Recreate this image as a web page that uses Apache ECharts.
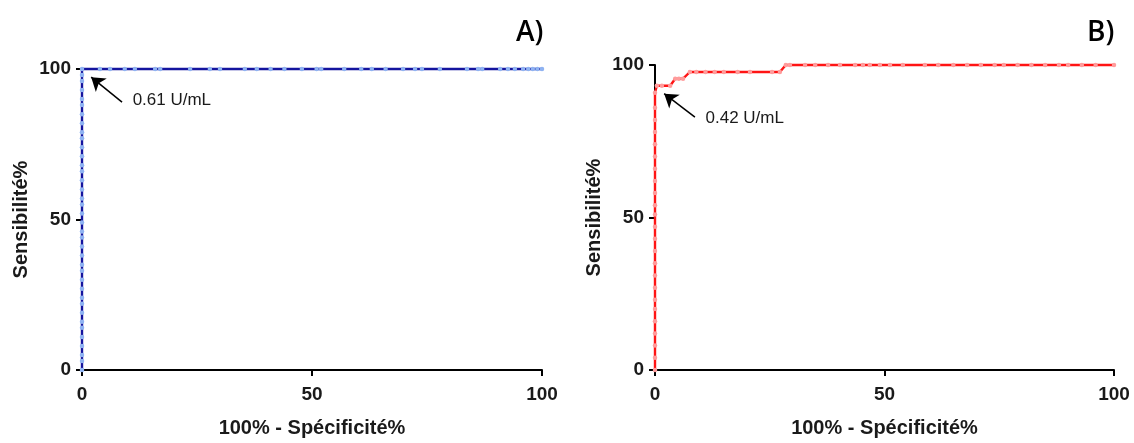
<!DOCTYPE html>
<html>
<head>
<meta charset="utf-8">
<script src="https://cdn.jsdelivr.net/npm/echarts@6/dist/echarts.min.js"></script>
<style>
html,body{margin:0;padding:0;background:#fff;overflow:hidden;}
#chart{width:1134px;height:443px;}
</style>
</head>
<body>
<div id="chart"></div>
<script>
// ---- Data ----
const panelTitles = ['A)', 'B)'];
const xAxisName = '100% - Spécificité%';
const yAxisName = 'Sensibilité%';
const axisMin = 0, axisMax = 100, axisInterval = 50;

// Panel A ROC (100% - specificity, sensitivity)
const rocA_x = [0,0,0,0,0,0,0,0,0,0,0,0,0,0,0,0,0,0,0,0,0,0,0,0,0,0,0,0,0,0,0,0,0,0,0,0,0,0,
  3.9,6.1,9.3,11.5,15.9,17,23.5,27.8,30,35.4,38,41,44,47.8,51,52,57,60.7,63,66,69.8,72.4,73.9,77.8,83.7,86.1,87,90.9,92.6,94.1,95.9,97,98,99,100];
const rocA_y = [0,3,5,8,11,14,16,19,22,24,27,30,33,35,38,41,44,46,49,52,55,57,60,63,66,68,71,74,77,79,82,85,88,90,93,96,98,100,
  100,100,100,100,100,100,100,100,100,100,100,100,100,100,100,100,100,100,100,100,100,100,100,100,100,100,100,100,100,100,100,100,100,100,100];

// Panel B ROC
const rocB_x = [0,0,0,0,0,0,0,0,0,0,0,0,0,0,0,0,0,0,0,0,0,0,0,0,
  0.4,1.5,3.3,4.4,5.2,6.1,7.6,9,11,13,15,18,20.7,25.5,27.2,28.5,29.4,32.7,34.9,37.7,40.3,43.6,45.3,46.8,49,51.2,54,58.8,61.7,65,68,71,74,76,79,82,85,88,90,93,96,100];
const rocB_y = [0,4,8,12,16,20,23,27,31,35,39,43,47,51,54,58,62,66,70,74,78,82,86,90.9,
  93.2,93.2,93.2,95.5,95.5,95.5,97.7,97.7,97.7,97.7,97.7,97.7,97.7,97.7,97.7,100,100,100,100,100,100,100,100,100,100,100,100,100,100,100,100,100,100,100,100,100,100,100,100,100,100,100];

// Annotations: cut-off labels and arrow (tail -> head) in data units
const cutoffLabels = ['0.61 U/mL', '0.42 U/mL'];
const arrowA = [[8.7, 89.0], [2.0, 97.3]];
const arrowB = [[8.7, 82.9], [2.0, 90.6]];
const labelPosA = [10.9, 89.5];
const labelPosB = [10.9, 82.6];

// ---- Chart ----
const chart = echarts.init(document.getElementById('chart'));
const tickFont = {fontFamily: 'Liberation Sans, Arial, sans-serif', fontWeight: 'bold', fontSize: 19, color: '#1a1a1a'};
const nameFont = {fontFamily: 'Liberation Sans, Arial, sans-serif', fontWeight: 'bold', fontSize: 20, color: '#1a1a1a'};

function xAx(gi) {
  return {
    type: 'value', gridIndex: gi, min: axisMin, max: axisMax, interval: axisInterval,
    name: xAxisName, nameLocation: 'middle', nameGap: 48, nameTextStyle: nameFont,
    axisLine: {show: true, onZero: false, lineStyle: {color: '#000', width: 2}},
    axisTick: {show: true, length: 6, lineStyle: {color: '#000', width: 2}},
    axisLabel: Object.assign({margin: 15}, tickFont),
    splitLine: {show: false}
  };
}
function yAx(gi) {
  return {
    type: 'value', gridIndex: gi, min: axisMin, max: axisMax, interval: axisInterval,
    name: yAxisName, nameLocation: 'middle', nameGap: 51, nameTextStyle: nameFont,
    axisLine: {show: true, lineStyle: {color: '#000', width: 2}},
    axisTick: {show: true, length: 6, lineStyle: {color: '#000', width: 2}},
    axisLabel: Object.assign({margin: 11}, tickFont),
    splitLine: {show: false}
  };
}
function zip(xs, ys) { return xs.map((x, i) => [x, ys[i]]); }

function rocSeries(gi, xs, ys, lineColor, dotColor, arrow, labelPos, labelText) {
  return {
    type: 'line', xAxisIndex: gi, yAxisIndex: gi,
    data: zip(xs, ys), clip: false,
    symbol: 'circle', symbolSize: 4.5, showSymbol: true,
    itemStyle: {color: dotColor, borderWidth: 0},
    lineStyle: {color: lineColor, width: 2.4},
    emphasis: {disabled: true}, animation: false,
    markLine: {
      silent: true, animation: false,
      symbol: ['none', 'arrow'], symbolSize: 13,
      lineStyle: {color: '#000', width: 1.5, type: 'solid'},
      itemStyle: {color: '#000'},
      label: {show: false},
      data: [[{coord: arrow[0]}, {coord: arrow[1]}]]
    },
    markPoint: {
      silent: true, animation: false,
      symbol: 'circle', symbolSize: 1, itemStyle: {color: 'rgba(0,0,0,0)'},
      label: {show: true, position: 'right', distance: 0, formatter: labelText,
        fontFamily: 'Liberation Sans, Arial, sans-serif', fontSize: 17, color: '#1a1a1a'},
      data: [{coord: labelPos}]
    }
  };
}

chart.setOption({
  backgroundColor: '#fff',
  animation: false,
  title: [
    {text: panelTitles[0], left: 511, top: 14, textStyle: {fontFamily: 'Open Sans, Noto Sans, sans-serif', fontWeight: 600, fontSize: 28, color: '#000'}},
    {text: panelTitles[1], left: 1082, top: 14, textStyle: {fontFamily: 'Open Sans, Noto Sans, sans-serif', fontWeight: 600, fontSize: 28, color: '#000'}}
  ],
  grid: [
    {left: 82, top: 69, width: 460, height: 306},
    {left: 655, top: 65, width: 459, height: 310}
  ],
  xAxis: [xAx(0), xAx(1)],
  yAxis: [yAx(0), yAx(1)],
  series: [
    rocSeries(0, rocA_x, rocA_y, '#14149e', '#8fb3f2', arrowA, labelPosA, cutoffLabels[0]),
    rocSeries(1, rocB_x, rocB_y, '#ff1414', '#ff9c9c', arrowB, labelPosB, cutoffLabels[1])
  ]
});
</script>
</body>
</html>
